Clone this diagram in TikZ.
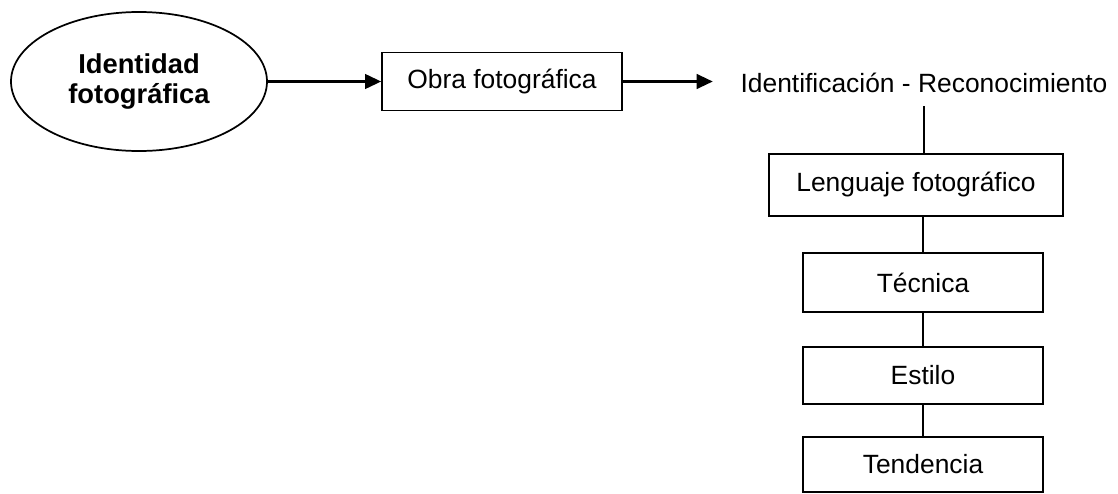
\documentclass[tikz,border=0pt]{standalone}
\usepackage{fontspec}
\setmainfont{Liberation Sans}
\usetikzlibrary{arrows.meta}
\usetikzlibrary{positioning}
\usetikzlibrary{shapes.geometric}

\tikzset{
  caja/.style={draw, line width=1.3pt, inner sep=0pt, font=\fontsize{19.8}{22}\selectfont},
  flecha/.style={line width=1.6pt, -{Triangle[length=12pt,width=11pt]}},
  enlace/.style={line width=1.3pt}
}

\begin{document}
\begin{tikzpicture}[x=0.75pt,y=0.75pt,yscale=-1,xscale=1]
%set diagram left start at 0, and has height of 493
\useasboundingbox (0,0) rectangle (1118,493);

%Shape: Ellipse [id:ident]
\node (ident) at (139,81.5) [ellipse, draw, line width=1.3pt, inner sep=0pt, minimum width=192pt, minimum height=104.25pt, align=center, font=\fontsize{20.5}{22.5}\selectfont\bfseries] {Identidad\\fotográfica};

%Shape: Rectangle [id:obra]
\node (obra) at (502,81.5) [caja, minimum width=180pt, minimum height=43.5pt] {Obra fotográfica};

% Text Node
\node (idrec) at (924,83) [inner sep=0pt, minimum width=316.5pt, minimum height=34.5pt, font=\fontsize{19.8}{22}\selectfont] {Identificación - Reconocimiento};

%Shape: Rectangle [id:leng]
\node (leng) at (916,185) [caja, minimum width=220.5pt, minimum height=46.5pt] {Lenguaje fotográfico};

%Shape: Rectangle [id:tecn]
\node (tecn) at (923,282.5) [caja, minimum width=180pt, minimum height=44.25pt] {Técnica};

%Shape: Rectangle [id:esti]
\node (esti) at (923,375.5) [caja, minimum width=180pt, minimum height=42.75pt] {Estilo};

%Shape: Rectangle [id:tend]
\node (tend) at (923,464.5) [caja, minimum width=180pt, minimum height=41.25pt] {Tendencia};

%Straight Lines
\draw [flecha] (ident.east) -- (obra.west);
\draw [flecha] (obra.east) -- (obra.east -| idrec.west);
\draw [enlace] (idrec.south) -- (idrec.south |- leng.north);
\draw [enlace] (leng.south -| tecn.north) -- (tecn.north);
\draw [enlace] (tecn.south) -- (esti.north);
\draw [enlace] (esti.south) -- (tend.north);

\end{tikzpicture}
\end{document}
